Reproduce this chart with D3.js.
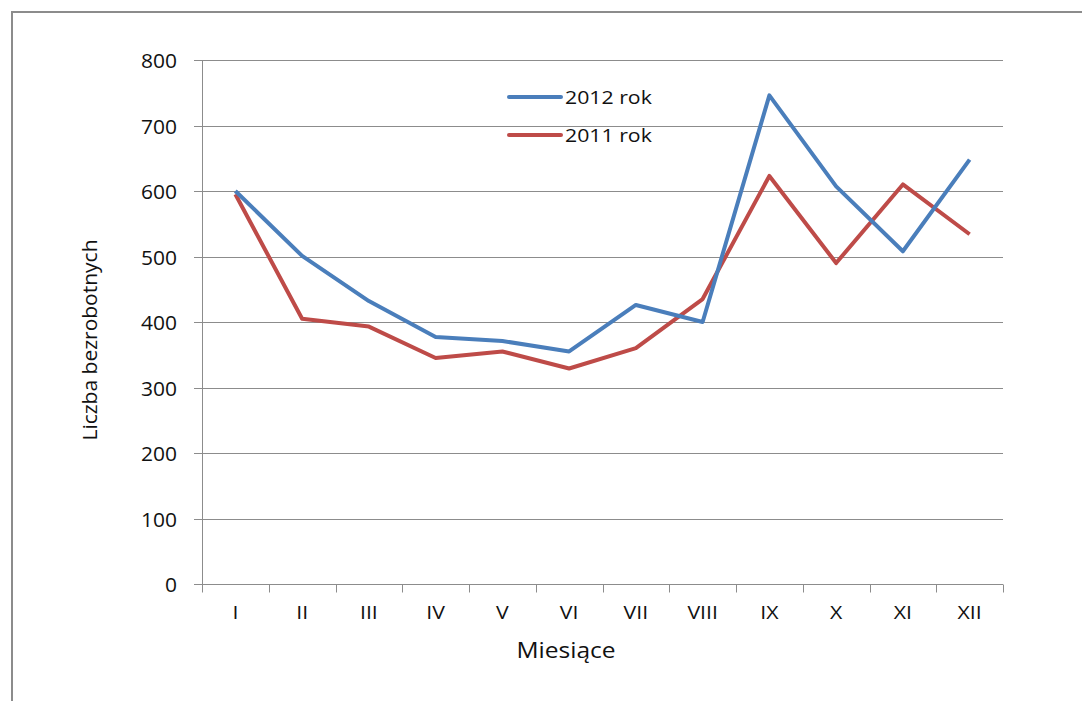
<!DOCTYPE html>
<html>
<head>
<meta charset="utf-8">
<script src="https://cdn.jsdelivr.net/npm/d3@7"></script>
<style>
  html, body { margin: 0; padding: 0; background: #fff; }
</style>
</head>
<body>
<script>
// Chart data
const months = ["I", "II", "III", "IV", "V", "VI", "VII", "VIII", "IX", "X", "XI", "XII"];
const values2012 = [600, 501, 432, 377, 371, 355, 426, 400, 746, 607, 508, 648];
const values2011 = [595, 405, 393, 345, 355, 329, 360, 435, 623, 490, 610, 534];
const yTicks = [0, 100, 200, 300, 400, 500, 600, 700, 800];
const seriesNames = ["2012 rok", "2011 rok"];
const seriesColors = ["#4a7ebb", "#be4b48"];

const width = 1082;
const height = 701;
const margin = { top: 60, right: 79, bottom: 117, left: 202 };
const font = "'Open Sans', 'Liberation Sans', sans-serif";
const gridColor = "#8c8c8c";
const textColor = "#111";
const stretch = 1.12; // the source text is a bit wide

const svg = d3.select("body")
    .append("svg")
    .attr("width", width)
    .attr("height", height)
    .attr("font-family", font);

// helper: place a horizontally stretched text
function label(g, x, y, str, size, anchor = "start", sx = stretch) {
    return g.append("text")
        .attr("transform", `translate(${x},${y}) scale(${sx},1)`)
        .attr("text-anchor", anchor)
        .attr("font-size", size)
        .attr("fill", textColor)
        .text(str);
}

// Outer frame (only top and left edges visible)
svg.append("path")
    .attr("d", `M12,${height} L12,12 L${width},12`)
    .attr("fill", "none")
    .attr("stroke", gridColor)
    .attr("stroke-width", 2);

const x = d3.scaleBand()
    .domain(months)
    .range([margin.left, width - margin.right]);

const y = d3.scaleLinear()
    .domain([0, 800])
    .range([height - margin.bottom, margin.top]);

// Gridlines + y ticks
const grid = svg.append("g");
yTicks.forEach(t => {
    const yy = Math.round(y(t)) + 0.5;
    grid.append("line")
        .attr("x1", margin.left - 8)
        .attr("x2", t === 0 ? margin.left : width - margin.right)
        .attr("y1", yy)
        .attr("y2", yy)
        .attr("stroke", gridColor);
    label(grid, 177, yy + 7, t, 20, "end", 1.05);
});
grid.append("line")
    .attr("x1", margin.left + 0.5)
    .attr("x2", margin.left + 0.5)
    .attr("y1", y(800))
    .attr("y2", y(0))
    .attr("stroke", gridColor);

// X axis with ticks between categories
const xAxis = svg.append("g");
const y0 = Math.round(y(0)) + 0.5;
xAxis.append("line")
    .attr("x1", margin.left - 8)
    .attr("x2", width - margin.right)
    .attr("y1", y0)
    .attr("y2", y0)
    .attr("stroke", gridColor);
const bounds = months.map(m => x(m)).concat([width - margin.right]);
bounds.forEach(b => {
    xAxis.append("line")
        .attr("x1", Math.round(b) + 0.5)
        .attr("x2", Math.round(b) + 0.5)
        .attr("y1", y0)
        .attr("y2", y0 + 8)
        .attr("stroke", gridColor);
});
months.forEach(m => label(xAxis, x(m) + x.bandwidth() / 2, 619, m, 19, "middle"));

// Axis titles
label(svg, 566, 658, "Miesiące", 21, "middle", 1.17);

svg.append("text")
    .attr("transform", `translate(97,340) rotate(-90) scale(1.05,1)`)
    .attr("text-anchor", "middle")
    .attr("font-size", 20)
    .attr("fill", textColor)
    .text("Liczba bezrobotnych");

// Lines
const line = d3.line()
    .x((d, i) => x(months[i]) + x.bandwidth() / 2)
    .y(d => y(d));

[[values2011, seriesColors[1]], [values2012, seriesColors[0]]].forEach(([vals, color]) => {
    svg.append("path")
        .datum(vals)
        .attr("fill", "none")
        .attr("stroke", color)
        .attr("stroke-width", 4)
        .attr("stroke-linejoin", "round")
        .attr("d", line);
});

// Legend
const legend = svg.append("g");
seriesNames.forEach((name, i) => {
    const ly = 97 + i * 38;
    legend.append("line")
        .attr("x1", 509)
        .attr("x2", 561)
        .attr("y1", ly)
        .attr("y2", ly)
        .attr("stroke", seriesColors[i])
        .attr("stroke-width", 4)
        .attr("stroke-linecap", "round");
    label(legend, 565, ly + 7, name, 19, "start", 1.12);
});
</script>
</body>
</html>
